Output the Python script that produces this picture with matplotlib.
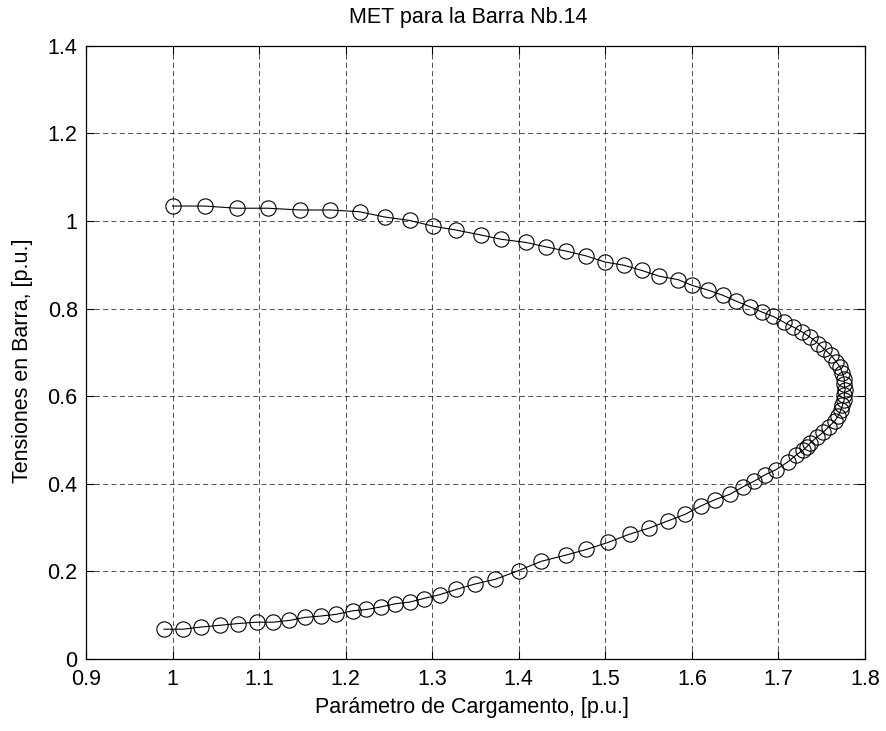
import matplotlib.pyplot as plt
from matplotlib.ticker import FormatStrFormatter

# Continuation (PV) curve
lam = [1.000, 1.037, 1.074, 1.110, 1.147, 1.182, 1.216, 1.245, 1.274, 1.301,
       1.328, 1.356, 1.380, 1.408, 1.431, 1.455, 1.478, 1.500, 1.521, 1.542,
       1.562, 1.584, 1.600, 1.619, 1.636, 1.651, 1.667, 1.681, 1.694, 1.706,
       1.717, 1.727, 1.737, 1.746, 1.753, 1.761, 1.767, 1.771, 1.774, 1.776,
       1.776, 1.777, 1.776, 1.776, 1.774, 1.772, 1.769, 1.765, 1.758, 1.752,
       1.745, 1.737, 1.733, 1.728, 1.720, 1.711, 1.697, 1.685, 1.672, 1.659,
       1.644, 1.627, 1.610, 1.592, 1.572, 1.551, 1.528, 1.503, 1.478, 1.454,
       1.426, 1.400, 1.373, 1.349, 1.328, 1.309, 1.290, 1.274, 1.257, 1.241,
       1.224, 1.208, 1.189, 1.171, 1.153, 1.135, 1.116, 1.097, 1.076, 1.055,
       1.033, 1.012, 0.990]
volt = [1.034, 1.034, 1.029, 1.029, 1.025, 1.025, 1.021, 1.009, 1.001, 0.988,
        0.979, 0.968, 0.958, 0.951, 0.941, 0.931, 0.920, 0.906, 0.899, 0.887,
        0.874, 0.866, 0.853, 0.842, 0.830, 0.817, 0.804, 0.792, 0.782, 0.769,
        0.758, 0.747, 0.734, 0.720, 0.707, 0.693, 0.678, 0.667, 0.653, 0.640,
        0.627, 0.615, 0.602, 0.591, 0.579, 0.568, 0.555, 0.543, 0.530, 0.518,
        0.507, 0.494, 0.485, 0.476, 0.465, 0.450, 0.432, 0.421, 0.406, 0.393,
        0.376, 0.364, 0.349, 0.330, 0.315, 0.299, 0.285, 0.266, 0.250, 0.237,
        0.223, 0.202, 0.182, 0.171, 0.159, 0.147, 0.138, 0.130, 0.126, 0.119,
        0.113, 0.110, 0.102, 0.098, 0.095, 0.088, 0.084, 0.084, 0.081, 0.077,
        0.073, 0.068, 0.068]

xticks = [0.9, 1.0, 1.1, 1.2, 1.3, 1.4, 1.5, 1.6, 1.7, 1.8]
yticks = [0, 0.2, 0.4, 0.6, 0.8, 1.0, 1.2, 1.4]

plt.rcParams['font.family'] = ['Liberation Sans', 'DejaVu Sans']
FS = 15.5

fig = plt.figure(figsize=(8.87, 7.31), dpi=100)
ax = fig.add_axes([86 / 887, 72 / 731, 779 / 887, 613.3 / 731])

ax.plot(lam, volt, color='black', linewidth=0.8, marker='o', markersize=11,
        markerfacecolor='none', markeredgecolor='black', markeredgewidth=0.8)

ax.set_xlim(0.9, 1.8)
ax.set_ylim(0, 1.4)
ax.set_xticks(xticks)
ax.set_yticks(yticks)
ax.xaxis.set_major_formatter(FormatStrFormatter('%g'))
ax.yaxis.set_major_formatter(FormatStrFormatter('%g'))
ax.tick_params(direction='in', length=6, width=0.8, top=True, right=True,
               labelsize=FS)
ax.tick_params(axis='x', pad=7)
ax.tick_params(axis='y', pad=6)
ax.grid(True, color='black', linestyle=(0, (6, 4)), linewidth=0.6, alpha=0.8)
for sp in ax.spines.values():
    sp.set_linewidth(0.9)

fig.text(472 / 887, 1 - 708 / 731, 'Parámetro de Cargamento, [p.u.]',
         ha='center', va='center', fontsize=FS)
fig.text(23 / 887, 1 - 361 / 731, 'Tensiones en Barra, [p.u.]', rotation=90,
         ha='center', va='center', fontsize=FS)
fig.text(468 / 887, 1 - 17 / 731, 'MET para la Barra Nb.14', ha='center',
         va='center', fontsize=FS)

fig.savefig('out.png', dpi=100)
